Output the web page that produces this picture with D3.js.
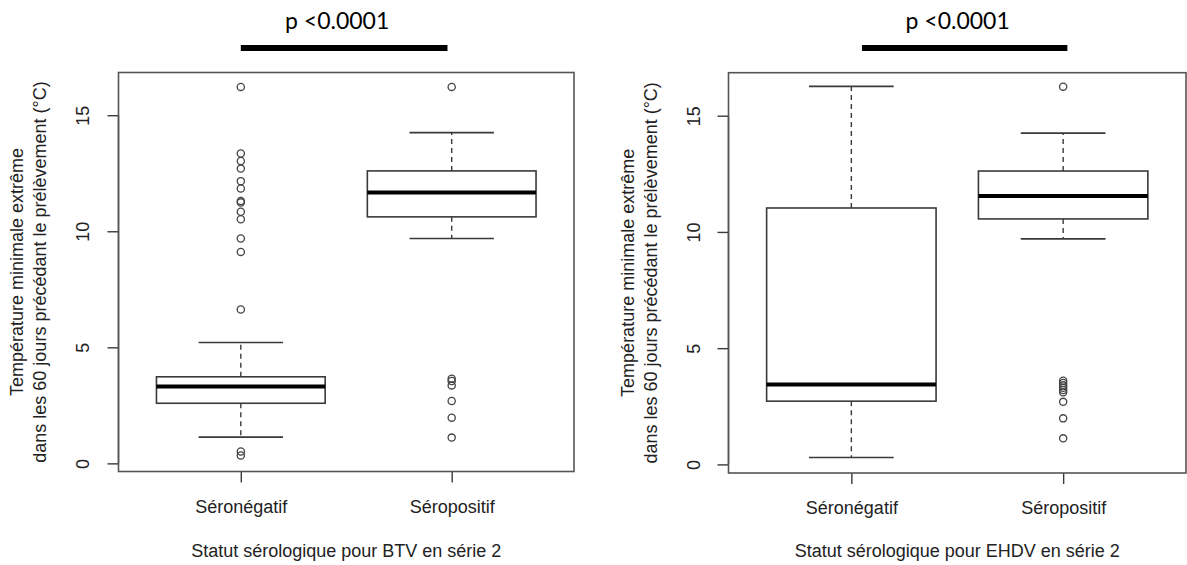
<!DOCTYPE html>
<html>
<head>
<meta charset="utf-8">
<script src="https://cdn.jsdelivr.net/npm/d3@7"></script>
<style>
  html, body { margin: 0; padding: 0; background: #fff; }
  svg { display: block; }
  text { font-family: "Liberation Sans", Arial, sans-serif; fill: #222; }
</style>
</head>
<body>
<svg id="chart" width="1187" height="565"></svg>
<script>
// ---- data ----
const categories = ["Séronégatif", "Séropositif"];
const yTicks = [0, 5, 10, 15];
const yLabelLines = ["Température minimale extrême", "dans les 60 jours précédant le prélèvement (°C)"];
const xTitles = ["Statut sérologique pour BTV en série 2", "Statut sérologique pour EHDV en série 2"];
const pLabels = ["p <0.0001", "p <0.0001"];

// BTV panel (per category)
const btvLow  = [1.13, 9.69];
const btvQ1   = [2.59, 10.62];
const btvMed  = [3.31, 11.67];
const btvQ3   = [3.73, 12.60];
const btvHigh = [5.21, 14.25];
const btvOutNeg = [0.34, 0.51, 6.63, 9.11, 9.69, 10.52, 10.84, 11.24, 11.30, 11.84, 12.16, 12.70, 13.03, 13.35, 16.22];
const btvOutPos = [1.11, 1.97, 2.69, 3.36, 3.55, 3.65, 16.22];

// EHDV panel (per category)
const ehdvLow  = [0.30, 9.70];
const ehdvQ1   = [2.72, 10.56];
const ehdvMed  = [3.44, 11.55];
const ehdvQ3   = [11.03, 12.62];
const ehdvHigh = [16.26, 14.25];
const ehdvOutNeg = [];
const ehdvOutPos = [1.12, 1.98, 2.69, 3.10, 3.20, 3.30, 3.40, 3.50, 3.60, 16.25];

// significance bar extents (in category units)
const sigBarBtv = [1.00, 1.98];
const sigBarEhdv = [1.05, 2.02];

// ---- layout ----
const panels = [
  { left: 118.5, right: 574, top: 72.5, bottom: 471.5, yDom: [-0.35, 16.84],
    low: btvLow, q1: btvQ1, med: btvMed, q3: btvQ3, high: btvHigh, out: [btvOutNeg, btvOutPos],
    title: xTitles[0], p: pLabels[0], bar: sigBarBtv, ylx: [17, 40], tickLabX: 82.7 },
  { left: 728.5, right: 1186, top: 72.7, bottom: 473, yDom: [-0.37, 16.85],
    low: ehdvLow, q1: ehdvQ1, med: ehdvMed, q3: ehdvQ3, high: ehdvHigh, out: [ehdvOutNeg, ehdvOutPos],
    title: xTitles[1], p: pLabels[1], bar: sigBarEhdv, ylx: [628, 650.5], tickLabX: 693.5 }
];

const svg = d3.select("#chart");
const lineColor = "#3a3a3a";
const fs = 18;

panels.forEach(P => {
  const x = d3.scaleLinear().domain([0.42, 2.58]).range([P.left, P.right]);
  const y = d3.scaleLinear().domain(P.yDom).range([P.bottom, P.top]);
  const g = svg.append("g");

  // y axis
  const ya = g.append("g").attr("transform", `translate(${P.left},0)`)
    .call(d3.axisLeft(y).tickValues(yTicks).tickSize(11).tickSizeOuter(0).tickFormat(d3.format("d")));
  ya.select(".domain").remove();
  ya.selectAll(".tick line").attr("stroke", lineColor).attr("stroke-width", 1.4);
  ya.selectAll(".tick text")
    .attr("x", 0).attr("y", -(P.left - P.tickLabX)).attr("dy", "0.35em")
    .attr("text-anchor", "middle").attr("transform", "rotate(-90)")
    .style("font-size", fs + "px").style("font-family", "Liberation Sans, Arial, sans-serif").attr("fill", "#222");
  g.append("line").attr("x1", P.left).attr("x2", P.left)
    .attr("y1", y(yTicks[0])).attr("y2", y(yTicks[yTicks.length - 1]))
    .attr("stroke", lineColor).attr("stroke-width", 1.4);

  // x axis
  const xa = g.append("g").attr("transform", `translate(0,${P.bottom})`)
    .call(d3.axisBottom(x).tickValues([1, 2]).tickSize(11).tickSizeOuter(0).tickFormat((d, i) => categories[i]));
  xa.select(".domain").remove();
  xa.selectAll(".tick line").attr("stroke", lineColor).attr("stroke-width", 1.4);
  xa.selectAll(".tick text").attr("y", 41).attr("dy", 0)
    .style("font-size", fs + "px").style("font-family", "Liberation Sans, Arial, sans-serif").attr("fill", "#222");

  // frame
  g.append("rect").attr("x", P.left).attr("y", P.top)
    .attr("width", P.right - P.left).attr("height", P.bottom - P.top)
    .attr("fill", "none").attr("stroke", "#555").attr("stroke-width", 1.6);

  // boxes
  categories.forEach((c, i) => {
    const cx = x(i + 1);
    const bw = x(0.4) - x(0);      // half box width (0.8 total)
    const cw = x(0.2) - x(0);      // half staple width
    const bg = g.append("g");
    // whiskers
    bg.append("line").attr("x1", cx).attr("x2", cx).attr("y1", y(P.q3[i])).attr("y2", y(P.high[i]))
      .attr("stroke", lineColor).attr("stroke-width", 1.4).attr("stroke-dasharray", "5,4");
    bg.append("line").attr("x1", cx).attr("x2", cx).attr("y1", y(P.q1[i])).attr("y2", y(P.low[i]))
      .attr("stroke", lineColor).attr("stroke-width", 1.4).attr("stroke-dasharray", "5,4");
    // staples
    [P.high[i], P.low[i]].forEach(v => {
      bg.append("line").attr("x1", cx - cw).attr("x2", cx + cw).attr("y1", y(v)).attr("y2", y(v))
        .attr("stroke", lineColor).attr("stroke-width", 1.6);
    });
    // box
    bg.append("rect").attr("x", cx - bw).attr("y", y(P.q3[i]))
      .attr("width", 2 * bw).attr("height", y(P.q1[i]) - y(P.q3[i]))
      .attr("fill", "none").attr("stroke", lineColor).attr("stroke-width", 1.6);
    // median
    bg.append("line").attr("x1", cx - bw).attr("x2", cx + bw).attr("y1", y(P.med[i])).attr("y2", y(P.med[i]))
      .attr("stroke", "#000").attr("stroke-width", 4);
    // outliers
    bg.selectAll("circle.o").data(P.out[i]).enter().append("circle")
      .attr("cx", cx).attr("cy", d => y(d)).attr("r", 3.6)
      .attr("fill", "none").attr("stroke", "#444").attr("stroke-width", 1.3);
  });

  // y label (two lines, rotated)
  const yc = (P.top + P.bottom) / 2;
  yLabelLines.forEach((t, k) => {
    g.append("text").attr("transform", `translate(${P.ylx[k]},${yc}) rotate(-90)`)
      .attr("text-anchor", "middle").attr("dy", "0.35em")
      .style("font-size", fs + "px").text(t);
  });

  // x title
  g.append("text").attr("x", (P.left + P.right) / 2).attr("y", 557)
    .attr("text-anchor", "middle").style("font-size", fs + "px").text(P.title);

  // significance annotation
  const bx1 = x(P.bar[0]), bx2 = x(P.bar[1]);
  g.append("line").attr("x1", bx1).attr("x2", bx2).attr("y1", 48).attr("y2", 48)
    .attr("stroke", "#000").attr("stroke-width", 6);
  g.append("text").attr("x", (bx1 + bx2) / 2 - 7).attr("y", 29)
    .attr("text-anchor", "middle")
    .style("font-family", "Lato, 'Open Sans', sans-serif").style("font-size", "23px").style("fill", "#000")
    .text(P.p);
});
</script>
</body>
</html>
